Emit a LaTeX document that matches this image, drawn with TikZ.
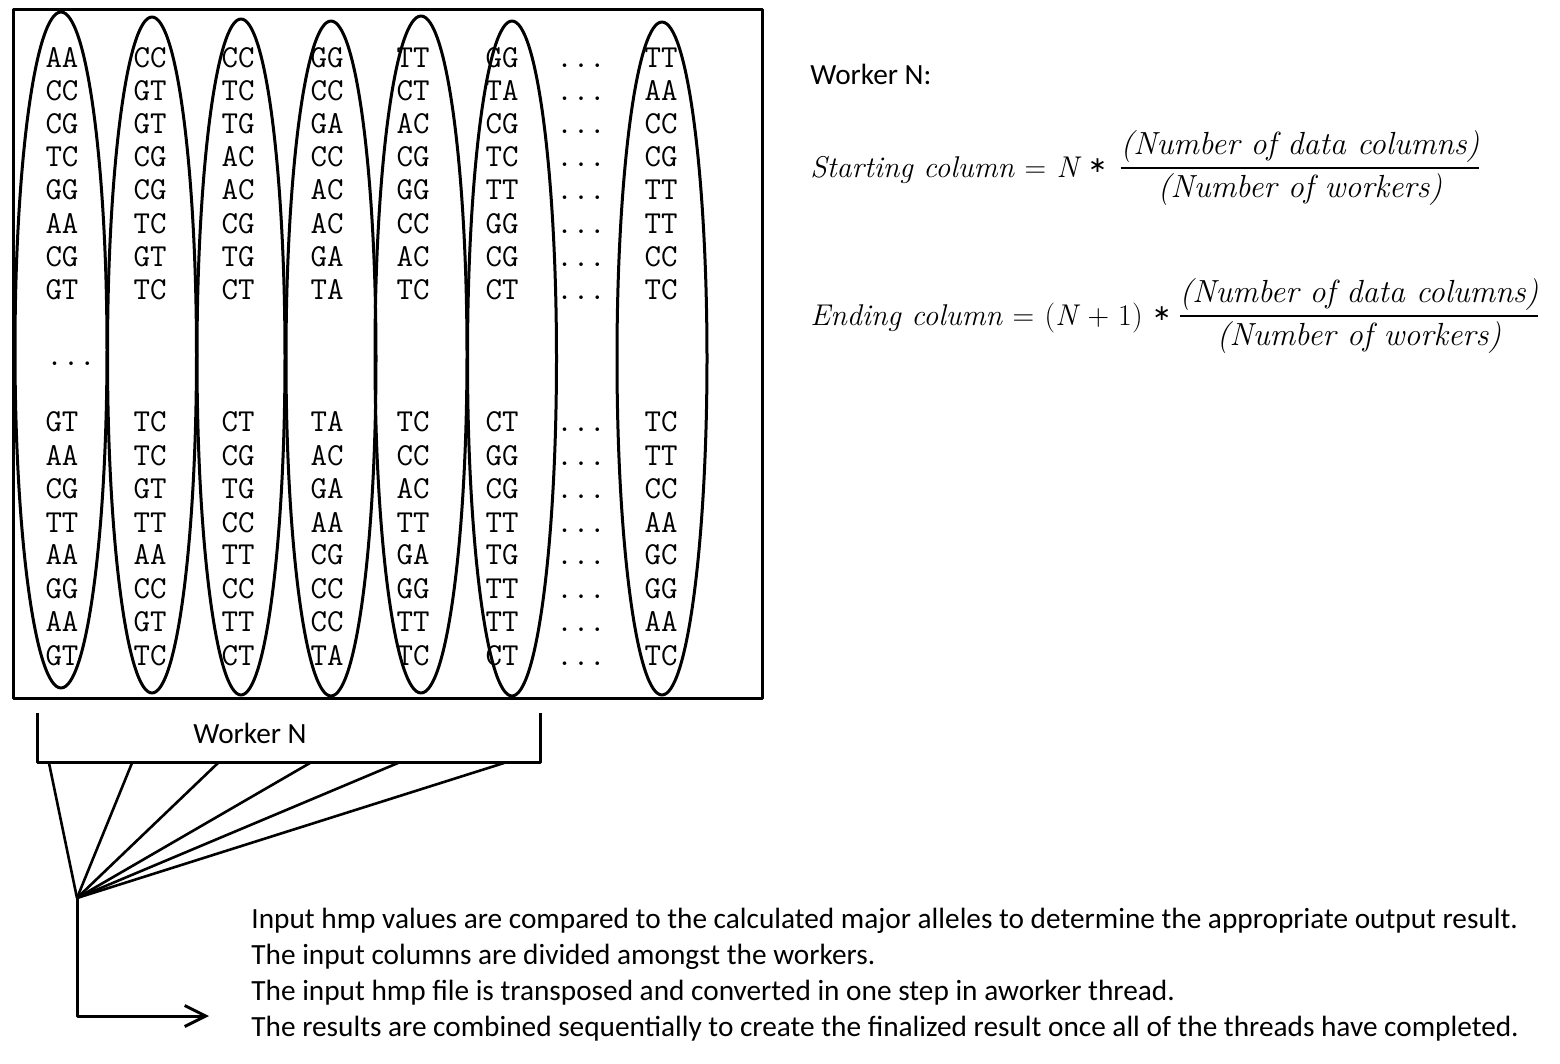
\documentclass[tikz,border=0pt]{standalone}
\usepackage{fontspec}
\usetikzlibrary{arrows.meta}
\newfontfamily\calfont{Carlito}
\newfontfamily\symfont{DejaVu Sans}
\newcommand{\astsym}{{\upshape\symfont\fontsize{11}{12}\selectfont\raisebox{2.5pt}{∗}}}
\begin{document}
\begin{tikzpicture}[x=0.5pt,y=-0.5pt,line join=round,
  mono/.style={font=\ttfamily\fontsize{16}{18}\selectfont,inner sep=0pt,anchor=base},
  cal/.style={font=\calfont\fontsize{14.65}{17}\selectfont,inner sep=0pt,anchor=base west},
  frm/.style={font=\fontsize{16}{18}\selectfont\itshape,inner sep=0pt},
  frmleft/.style={font=\fontsize{15}{18}\selectfont\itshape,inner sep=0pt,anchor=base west},
  thick line/.style={line width=1.5pt},
  fanline/.style={line width=1.3pt}]
\useasboundingbox (0,0) rectangle (1560,1064);
% table box
\draw[thick line] (13,10) rectangle (762,698);
% cell texts
\foreach \yy/\row in {59/{AA,CC,CC,GG,TT,GG,TT},92/{CC,GT,TC,CC,CT,TA,AA},125/{CG,GT,TG,GA,AC,CG,CC},
  158/{TC,CG,AC,CC,CG,TC,CG},191/{GG,CG,AC,AC,GG,TT,TT},225/{AA,TC,CG,AC,CC,GG,TT},
  258/{CG,GT,TG,GA,AC,CG,CC},291/{GT,TC,CT,TA,TC,CT,TC},
  423/{GT,TC,CT,TA,TC,CT,TC},457/{AA,TC,CG,AC,CC,GG,TT},490/{CG,GT,TG,GA,AC,CG,CC},
  523/{TT,TT,CC,AA,TT,TT,AA},556/{AA,AA,TT,CG,GA,TG,GC},589/{GG,CC,CC,CC,GG,TT,GG},
  622/{AA,GT,TT,CC,TT,TT,AA},656/{GT,TC,CT,TA,TC,CT,TC}}{
  \foreach \t [count=\c] in \row {
    \pgfmathsetmacro{\xx}{{62,150,238,327,413,502,661}[\c-1]}
    \node[mono] (t-\yy-\c) at (\xx,{\yy+9}) {\t};
  }
  \node[mono] (d-\yy) at (581,{\yy+9}) {...};
}
\node[mono] (dmid) at (71,366) {...};
% column ellipses
\foreach \cx/\cy/\ry/\rx in {61/350/338/46,152/355/338/44.5,241/357/338/44,331/358.5/337.5/45,
  421/354.5/338.5/46,512/358.5/337.5/44.5,662/358.5/336.5/45}{
  \draw[thick line] (\cx,\cy) ellipse [x radius={\rx*0.5pt}, y radius={\ry*0.5pt}];
}
% worker bracket
\draw[thick line] (37,713) -- (37,762) -- (540,762) -- (540,713);
\node[font=\calfont\fontsize{14.65}{17}\selectfont,inner sep=0pt] (wlabel) at (250,733) {Worker N};
% fan
\coordinate (apex) at (77,898);
\foreach \fx [count=\i] in {49,132,218,310,398,504}{
  \coordinate (f\i) at (\fx,763);
  \draw[fanline] (f\i) -- (apex);
}
\coordinate (corner) at (77,1016);
\coordinate (tip) at (209,1016);
\draw[thick line,-{Straight Barb[length=10.5pt,width=10.5pt,line width=1.5pt]}] (apex) -- (corner) -- (tip);
% bottom text
\node[cal] (l1) at (251,928) {Input hmp values are compared to the calculated major alleles to determine the appropriate output result.};
\node[cal] (l2) at (251,964) {The input columns are divided amongst the workers.};
\node[cal] (l3) at (251,1000) {The input hmp file is transposed and converted in one step in aworker thread.};
\node[cal] (l4) at (251,1036) {The results are combined sequentially to create the finalized result once all of the threads have completed.};
% formulas
\node[cal] (wn) at (810,85) {Worker N:};
\node[frmleft] (s1) at (810,178) {Starting column {\upshape=} N\,\,\astsym};
\node[frm] (fr1) at (1300,168) {\setlength{\tabcolsep}{0pt}\renewcommand{\arraystretch}{1.15}\setlength{\arrayrulewidth}{0.8pt}\begin{tabular}{c}(Number of data columns)\\\hline (Number of workers)\end{tabular}};
\node[frmleft] (s2) at (810,326) {Ending column {\upshape=} {\upshape(}N {\upshape+ 1)}\,\,\astsym};
\node[frm] (fr2) at (1359,316) {\setlength{\tabcolsep}{0pt}\renewcommand{\arraystretch}{1.15}\setlength{\arrayrulewidth}{0.8pt}\begin{tabular}{c}(Number of data columns)\\\hline (Number of workers)\end{tabular}};
\end{tikzpicture}
\end{document}
